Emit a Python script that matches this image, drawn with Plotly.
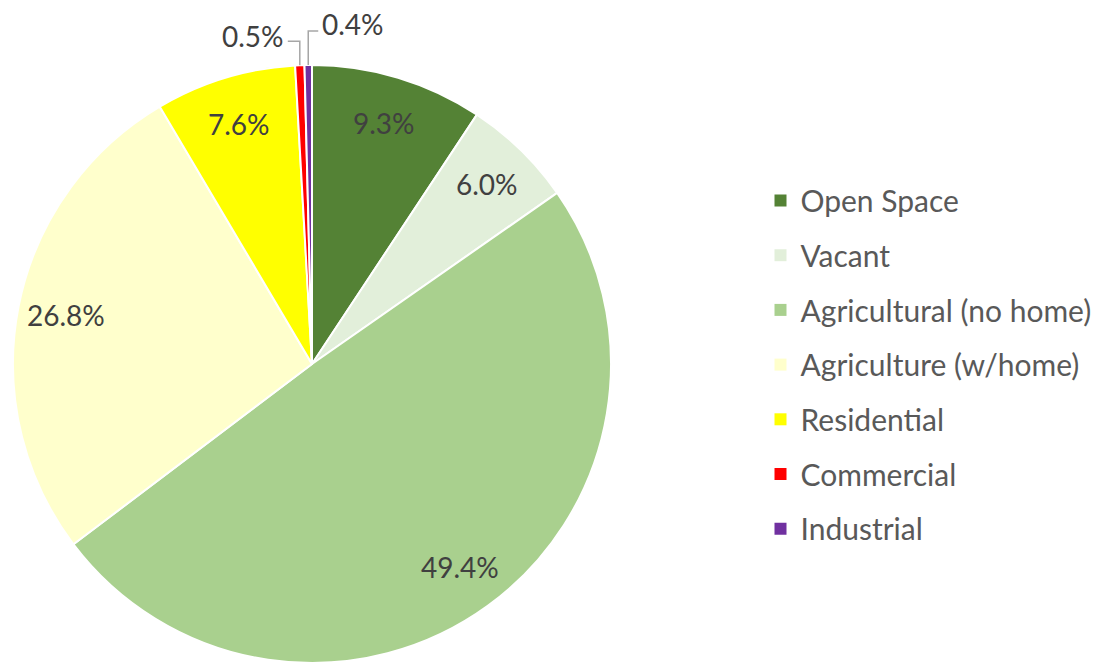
import math
import plotly.graph_objects as go

categories = ["Open Space", "Vacant", "Agricultural (no home)", "Agriculture (w/home)",
              "Residential", "Commercial", "Industrial"]
values = [9.3, 6.0, 49.4, 26.8, 7.6, 0.5, 0.4]
colors = ["#548235", "#E2EFDA", "#A9D08E", "#FFFFCC", "#FFFF00", "#FF0000", "#7030A0"]

W, H = 1105, 665
OFF = 8  # page body margin
CX, CY, R = 312 - OFF, 364 - OFF, 299
FONT = "Lato"

def px2paper(x, y):
    return x / W, 1 - y / H

fig = go.Figure()
fig.add_trace(go.Pie(
    labels=categories, values=values, sort=False, direction="clockwise", rotation=0,
    marker=dict(colors=colors, line=dict(color="white", width=2)),
    textinfo="none", hoverinfo="label+percent", showlegend=False,
    domain=dict(x=[(CX - R) / W, (CX + R) / W], y=[1 - (CY + R) / H, 1 - (CY - R) / H]),
))

# legend entries via dummy traces so spacing can match
for i, (c, col) in enumerate(zip(categories, colors)):
    fig.add_trace(go.Scatter(x=[None], y=[None], mode="markers", name=c,
                             legendgroup=f"g{i}",
                             marker=dict(symbol="square", size=12, color=col)))

total = sum(values)
annotations = []
shapes = []
cum = 0.0
for i, v in enumerate(values):
    mid = (cum + v / 2) / total * 2 * math.pi
    cum += v
    txt = f"{v:.1f}%"
    if v >= 2:
        r = 0.84 * R
        x, y = CX + r * math.sin(mid), CY - r * math.cos(mid)
        px, py = px2paper(x, y)
        annotations.append(dict(x=px, y=py, xref="paper", yref="paper", text=txt,
                                showarrow=False, xanchor="center", yanchor="middle",
                                font=dict(family=FONT, size=28, color="#404040")))
    else:
        ex, ey = CX + R * math.sin(mid), CY - R * math.cos(mid)
        if i == len(values) - 2:
            rise, run, anchor, lift = 24, -12, "right", 5
        else:
            rise, run, anchor, lift = 34, 10, "left", 7
        p1 = px2paper(ex, ey)
        p2 = px2paper(ex, ey - rise)
        p3 = px2paper(ex + run, ey - rise)
        shapes.append(dict(type="path", xref="paper", yref="paper",
                           path=f"M {p1[0]},{p1[1]} L {p2[0]},{p2[1]} L {p3[0]},{p3[1]}",
                           line=dict(color="#A6A6A6", width=1.5)))
        lx = ex + run + (-3 if anchor == "right" else 3)
        lp = px2paper(lx, ey - rise - lift)
        annotations.append(dict(x=lp[0], y=lp[1], xref="paper", yref="paper", text=txt,
                                showarrow=False, xanchor=anchor, yanchor="middle",
                                borderpad=0,
                                font=dict(family=FONT, size=28, color="#404040")))

fig.update_layout(
    width=W, height=H, margin=dict(l=0, r=0, t=0, b=0, autoexpand=False),
    paper_bgcolor="white", plot_bgcolor="white",
    xaxis=dict(visible=False), yaxis=dict(visible=False),
    annotations=annotations, shapes=shapes,
    legend=dict(x=(760.5 - OFF) / W, y=1 - (365 - OFF) / H, xanchor="left", yanchor="middle",
                font=dict(family=FONT, size=30, color="#595959"),
                tracegroupgap=12.7, itemclick=False),
    showlegend=True,
)
fig.write_html("out.html")
